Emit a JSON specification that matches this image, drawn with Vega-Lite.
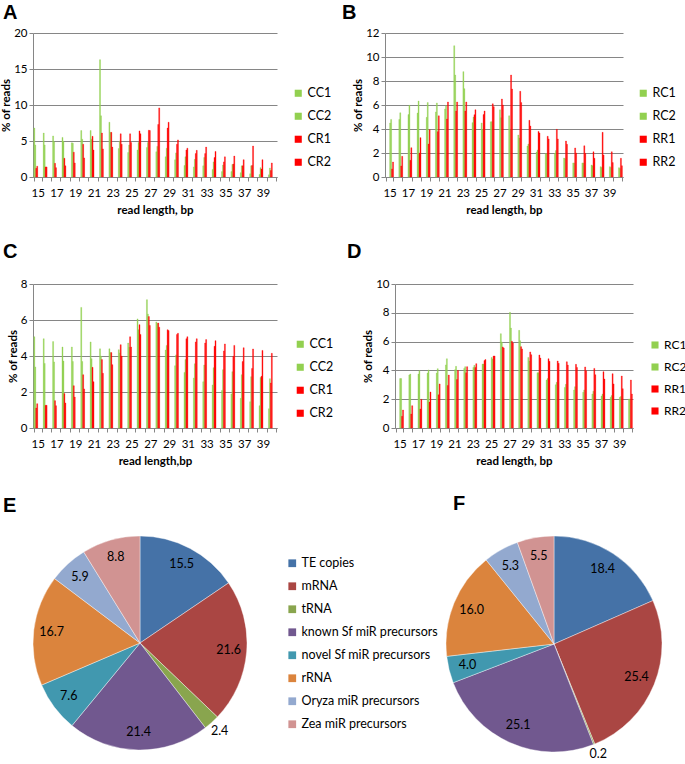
{
  "$schema": "https://vega.github.io/schema/vega-lite/v6.json",
  "padding": {"left": 0, "top": 3, "right": 0, "bottom": 0},
  "background": "white",
  "config": {
    "font": "Lato",
    "view": {"stroke": null},
    "axis": {"labelFont": "Lato", "labelFontSize": 11.5, "labelColor": "#000", "titleFont": "Lato", "titleFontSize": 11.5, "titleFontWeight": "bold", "titleColor": "#000", "domainColor": "#868686", "tickColor": "#868686", "gridColor": "#868686"},
    "axisX": {"grid": false, "tickBand": "extent", "labelAngle": 0, "labelPadding": 6, "tickSize": 4, "titlePadding": 6},
    "axisY": {"grid": true, "tickSize": 4, "labelPadding": 2, "titlePadding": 2},
    "legend": {"labelFont": "Lato", "labelFontSize": 12.5, "labelColor": "#000", "symbolType": "square", "symbolSize": 50, "symbolStrokeWidth": 0, "rowPadding": 10, "labelOffset": 3, "orient": "none", "direction": "vertical", "title": null},
    "title": {"font": "Liberation Sans", "fontSize": 20, "fontWeight": "bold", "color": "#000", "anchor": "start", "frame": "group", "offset": 0}
  },
  "datasets": {
    "A": [
      {"len":15,"CC1":6.8,"CC2":4.45,"CR1":1.2,"CR2":1.5},
      {"len":16,"CC1":6.1,"CC2":4.45,"CR1":1.4,"CR2":1.4},
      {"len":17,"CC1":5.7,"CC2":4.9,"CR1":1.9,"CR2":1.3},
      {"len":18,"CC1":5.5,"CC2":4.95,"CR1":2.6,"CR2":1.55},
      {"len":19,"CC1":4.75,"CC2":4.7,"CR1":3.45,"CR2":1.95},
      {"len":20,"CC1":6.45,"CC2":5.25,"CR1":4.55,"CR2":2.65},
      {"len":21,"CC1":6.45,"CC2":5.25,"CR1":5.65,"CR2":3.75},
      {"len":22,"CC1":16.3,"CC2":8.5,"CR1":6.1,"CR2":3.9},
      {"len":23,"CC1":7.6,"CC2":6.2,"CR1":6.2,"CR2":4.15},
      {"len":24,"CC1":3.95,"CC2":5.0,"CR1":6.0,"CR2":4.55},
      {"len":25,"CC1":3.4,"CC2":4.45,"CR1":6.0,"CR2":4.8},
      {"len":26,"CC1":3.75,"CC2":4.8,"CR1":6.4,"CR2":6.0},
      {"len":27,"CC1":4.1,"CC2":4.8,"CR1":6.5,"CR2":6.45},
      {"len":28,"CC1":3.5,"CC2":4.25,"CR1":7.3,"CR2":9.6},
      {"len":29,"CC1":2.8,"CC2":4.0,"CR1":6.8,"CR2":7.6},
      {"len":30,"CC1":2.4,"CC2":3.35,"CR1":4.55,"CR2":5.15},
      {"len":31,"CC1":1.6,"CC2":2.8,"CR1":3.75,"CR2":4.0},
      {"len":32,"CC1":1.4,"CC2":2.45,"CR1":3.25,"CR2":3.7},
      {"len":33,"CC1":1.55,"CC2":2.7,"CR1":3.25,"CR2":4.15},
      {"len":34,"CC1":1.05,"CC2":2.1,"CR1":2.7,"CR2":3.55},
      {"len":35,"CC1":0.75,"CC2":1.65,"CR1":2.1,"CR2":2.8},
      {"len":36,"CC1":0.75,"CC2":1.75,"CR1":1.8,"CR2":2.9},
      {"len":37,"CC1":0.6,"CC2":1.55,"CR1":1.55,"CR2":2.4},
      {"len":38,"CC1":0.45,"CC2":1.55,"CR1":1.6,"CR2":4.3},
      {"len":39,"CC1":0.35,"CC2":1.3,"CR1":1.1,"CR2":2.4},
      {"len":40,"CC1":0.3,"CC2":1.25,"CR1":0.9,"CR2":1.95}
    ],
    "B": [
      {"len":15,"RC1":4.5,"RC2":4.8,"RR1":0.67,"RR2":1.25},
      {"len":16,"RC1":4.8,"RC2":5.35,"RR1":0.92,"RR2":1.72},
      {"len":17,"RC1":5.2,"RC2":5.97,"RR1":1.39,"RR2":2.44},
      {"len":18,"RC1":5.33,"RC2":6.33,"RR1":2.0,"RR2":3.28},
      {"len":19,"RC1":4.97,"RC2":6.2,"RR1":2.75,"RR2":3.94},
      {"len":20,"RC1":5.42,"RC2":6.17,"RR1":3.78,"RR2":5.1},
      {"len":21,"RC1":5.67,"RC2":5.94,"RR1":4.83,"RR2":6.25},
      {"len":22,"RC1":10.94,"RC2":8.5,"RR1":5.5,"RR2":6.25},
      {"len":23,"RC1":8.78,"RC2":7.36,"RR1":5.5,"RR2":6.25},
      {"len":24,"RC1":4.53,"RC2":5.0,"RR1":5.19,"RR2":5.6},
      {"len":25,"RC1":4.5,"RC2":3.95,"RR1":5.2,"RR2":5.5},
      {"len":26,"RC1":4.6,"RC2":4.6,"RR1":6.1,"RR2":5.86},
      {"len":27,"RC1":5.6,"RC2":4.94,"RR1":6.5,"RR2":6.0},
      {"len":28,"RC1":5.1,"RC2":4.0,"RR1":8.5,"RR2":7.33},
      {"len":29,"RC1":3.5,"RC2":3.25,"RR1":7.14,"RR2":6.2},
      {"len":30,"RC1":2.58,"RC2":2.75,"RR1":4.72,"RR2":4.25},
      {"len":31,"RC1":2.08,"RC2":2.25,"RR1":3.8,"RR2":3.67},
      {"len":32,"RC1":1.94,"RC2":1.94,"RR1":3.39,"RR2":3.17},
      {"len":33,"RC1":1.97,"RC2":2.2,"RR1":3.97,"RR2":3.17},
      {"len":34,"RC1":1.58,"RC2":1.53,"RR1":3.0,"RR2":2.72},
      {"len":35,"RC1":1.17,"RC2":1.17,"RR1":2.42,"RR2":2.0},
      {"len":36,"RC1":1.17,"RC2":1.17,"RR1":2.6,"RR2":1.97},
      {"len":37,"RC1":1.0,"RC2":0.94,"RR1":2.1,"RR2":1.56},
      {"len":38,"RC1":0.86,"RC2":0.8,"RR1":3.72,"RR2":1.83},
      {"len":39,"RC1":0.86,"RC2":0.8,"RR1":2.1,"RR2":1.2},
      {"len":40,"RC1":0.78,"RC2":0.7,"RR1":1.56,"RR2":0.94}
    ],
    "C": [
      {"len":15,"CC1":5.07,"CC2":3.39,"CR1":1.11,"CR2":1.35},
      {"len":16,"CC1":4.96,"CC2":3.59,"CR1":1.26,"CR2":1.26},
      {"len":17,"CC1":4.8,"CC2":3.67,"CR1":1.52,"CR2":1.24},
      {"len":18,"CC1":4.5,"CC2":3.72,"CR1":1.91,"CR2":1.39},
      {"len":19,"CC1":4.5,"CC2":3.7,"CR1":2.35,"CR2":1.72},
      {"len":20,"CC1":6.7,"CC2":3.7,"CR1":2.96,"CR2":2.17},
      {"len":21,"CC1":4.78,"CC2":3.85,"CR1":3.37,"CR2":2.57},
      {"len":22,"CC1":4.4,"CC2":4.0,"CR1":3.8,"CR2":3.04},
      {"len":23,"CC1":4.4,"CC2":4.19,"CR1":4.19,"CR2":3.52},
      {"len":24,"CC1":4.35,"CC2":4.17,"CR1":4.63,"CR2":4.0},
      {"len":25,"CC1":4.72,"CC2":4.48,"CR1":5.07,"CR2":4.5},
      {"len":26,"CC1":6.06,"CC2":5.46,"CR1":5.74,"CR2":5.2},
      {"len":27,"CC1":7.13,"CC2":6.33,"CR1":6.19,"CR2":5.7},
      {"len":28,"CC1":5.89,"CC2":5.81,"CR1":5.83,"CR2":5.6},
      {"len":29,"CC1":4.33,"CC2":4.59,"CR1":5.46,"CR2":5.41},
      {"len":30,"CC1":3.46,"CC2":4.06,"CR1":5.2,"CR2":5.26},
      {"len":31,"CC1":3.09,"CC2":3.8,"CR1":4.96,"CR2":5.07},
      {"len":32,"CC1":2.78,"CC2":3.57,"CR1":4.78,"CR2":4.96},
      {"len":33,"CC1":2.57,"CC2":3.5,"CR1":4.72,"CR2":4.91},
      {"len":34,"CC1":2.39,"CC2":3.35,"CR1":4.54,"CR2":4.85},
      {"len":35,"CC1":2.09,"CC2":3.24,"CR1":4.28,"CR2":4.67},
      {"len":36,"CC1":1.89,"CC2":3.13,"CR1":3.98,"CR2":4.59},
      {"len":37,"CC1":1.65,"CC2":2.96,"CR1":3.69,"CR2":4.46},
      {"len":38,"CC1":1.46,"CC2":2.85,"CR1":3.31,"CR2":4.39},
      {"len":39,"CC1":1.24,"CC2":2.81,"CR1":2.87,"CR2":4.31},
      {"len":40,"CC1":1.07,"CC2":2.74,"CR1":2.5,"CR2":4.15}
    ],
    "D": [
      {"len":15,"RC1":3.43,"RC2":3.43,"RR1":0.81,"RR2":1.25},
      {"len":16,"RC1":3.68,"RC2":3.75,"RR1":0.97,"RR2":1.55},
      {"len":17,"RC1":3.75,"RC2":3.98,"RR1":1.32,"RR2":1.99},
      {"len":18,"RC1":3.82,"RC2":4.03,"RR1":1.8,"RR2":2.5},
      {"len":19,"RC1":3.82,"RC2":4.12,"RR1":2.31,"RR2":3.06},
      {"len":20,"RC1":4.38,"RC2":4.81,"RR1":2.96,"RR2":3.68},
      {"len":21,"RC1":4.05,"RC2":4.28,"RR1":3.36,"RR2":4.0},
      {"len":22,"RC1":4.14,"RC2":4.26,"RR1":3.84,"RR2":4.26},
      {"len":23,"RC1":4.21,"RC2":4.35,"RR1":4.21,"RR2":4.47},
      {"len":24,"RC1":4.44,"RC2":4.44,"RR1":4.68,"RR2":4.75},
      {"len":25,"RC1":4.9,"RC2":4.79,"RR1":5.0,"RR2":5.0},
      {"len":26,"RC1":6.55,"RC2":5.97,"RR1":5.63,"RR2":5.56},
      {"len":27,"RC1":8.03,"RC2":6.94,"RR1":6.02,"RR2":5.9},
      {"len":28,"RC1":6.78,"RC2":6.06,"RR1":5.65,"RR2":5.49},
      {"len":29,"RC1":4.9,"RC2":4.65,"RR1":5.28,"RR2":5.09},
      {"len":30,"RC1":3.84,"RC2":3.84,"RR1":5.07,"RR2":4.86},
      {"len":31,"RC1":3.33,"RC2":3.43,"RR1":4.81,"RR2":4.63},
      {"len":32,"RC1":3.0,"RC2":3.17,"RR1":4.65,"RR2":4.49},
      {"len":33,"RC1":2.82,"RC2":3.03,"RR1":4.6,"RR2":4.37},
      {"len":34,"RC1":2.64,"RC2":2.87,"RR1":4.42,"RR2":4.21},
      {"len":35,"RC1":2.48,"RC2":2.64,"RR1":4.24,"RR2":3.98},
      {"len":36,"RC1":2.36,"RC2":2.55,"RR1":4.14,"RR2":3.7},
      {"len":37,"RC1":2.22,"RC2":2.36,"RR1":3.91,"RR2":3.4},
      {"len":38,"RC1":2.13,"RC2":2.25,"RR1":3.77,"RR2":3.06},
      {"len":39,"RC1":2.13,"RC2":2.18,"RR1":3.61,"RR2":2.73},
      {"len":40,"RC1":2.01,"RC2":2.01,"RR1":3.33,"RR2":2.36}
    ],
    "E": [
      {"k":1,"cat":"TE copies","v":15.5},
      {"k":2,"cat":"mRNA","v":21.6},
      {"k":3,"cat":"tRNA","v":2.4},
      {"k":4,"cat":"known Sf miR precursors","v":21.4},
      {"k":5,"cat":"novel Sf miR precursors","v":7.6},
      {"k":6,"cat":"rRNA","v":16.7},
      {"k":7,"cat":"Oryza miR precursors","v":5.9},
      {"k":8,"cat":"Zea miR precursors","v":8.8}
    ],
    "F": [
      {"k":1,"cat":"TE copies","v":18.4},
      {"k":2,"cat":"mRNA","v":25.4},
      {"k":3,"cat":"tRNA","v":0.2},
      {"k":4,"cat":"known Sf miR precursors","v":25.1},
      {"k":5,"cat":"novel Sf miR precursors","v":4.0},
      {"k":6,"cat":"rRNA","v":16.0},
      {"k":7,"cat":"Oryza miR precursors","v":5.3},
      {"k":8,"cat":"Zea miR precursors","v":5.5}
    ]
  },
  "columns": 1,
  "align": "none",
  "spacing": 26,
  "concat": [
    {
      "hconcat": [
        {
          "width": 244, "height": 144,
          "title": {"text": "A", "dx": -30},
          "data": {"name": "A"},
          "transform": [{"fold": ["CC1", "CC2", "CR1", "CR2"], "as": ["s", "v"]}],
          "mark": {"type": "bar", "strokeWidth": 0.35},
          "encoding": {
            "x": {"field": "len", "type": "ordinal", "scale": {"paddingInner": 0.18, "paddingOuter": 0.09}, "axis": {"title": "read length, bp", "labelExpr": "datum.value % 2 == 1 ? datum.label : ''"}},
            "xOffset": {"field": "s", "type": "nominal", "scale": {"domain": ["CC1", "CC2", "CR1", "CR2"], "paddingInner": 0, "paddingOuter": 0}},
            "y": {"field": "v", "type": "quantitative", "scale": {"domain": [0, 20]}, "axis": {"values": [0, 5, 10, 15, 20], "title": "% of reads"}},
            "color": {"field": "s", "type": "nominal", "scale": {"domain": ["CC1", "CC2", "CR1", "CR2"], "range": ["#92D050", "#92D050", "#FF0000", "#FF0000"]}, "legend": {"legendX": 259, "legendY": 54}},
            "stroke": {"field": "s", "type": "nominal", "scale": {"domain": ["CC1", "CC2", "CR1", "CR2"], "range": ["#92D050", "#92D050", "#FF0000", "#FF0000"]}, "legend": null}
          }
        },
        {
          "width": 238, "height": 144,
          "title": {"text": "B", "dx": -43},
          "data": {"name": "B"},
          "transform": [{"fold": ["RC1", "RC2", "RR1", "RR2"], "as": ["s", "v"]}],
          "mark": {"type": "bar", "strokeWidth": 0.35},
          "encoding": {
            "x": {"field": "len", "type": "ordinal", "scale": {"paddingInner": 0.18, "paddingOuter": 0.09}, "axis": {"title": "read length, bp", "labelExpr": "datum.value % 2 == 1 ? datum.label : ''"}},
            "xOffset": {"field": "s", "type": "nominal", "scale": {"domain": ["RC1", "RC2", "RR1", "RR2"], "paddingInner": 0, "paddingOuter": 0}},
            "y": {"field": "v", "type": "quantitative", "scale": {"domain": [0, 12]}, "axis": {"values": [0, 2, 4, 6, 8, 10, 12], "title": "% of reads"}},
            "color": {"field": "s", "type": "nominal", "scale": {"domain": ["RC1", "RC2", "RR1", "RR2"], "range": ["#92D050", "#92D050", "#FF0000", "#FF0000"]}, "legend": {"legendX": 252, "legendY": 54}},
            "stroke": {"field": "s", "type": "nominal", "scale": {"domain": ["RC1", "RC2", "RR1", "RR2"], "range": ["#92D050", "#92D050", "#FF0000", "#FF0000"]}, "legend": null}
          }
        }
      ],
      "spacing": 108,
      "bounds": "flush",
      "resolve": {"scale": {"color": "independent", "stroke": "independent"}, "legend": {"color": "independent"}}
    },
    {
      "hconcat": [
        {
          "width": 244, "height": 144,
          "title": {"text": "C", "dx": -30, "offset": 16},
          "data": {"name": "C"},
          "transform": [{"fold": ["CC1", "CC2", "CR1", "CR2"], "as": ["s", "v"]}],
          "mark": {"type": "bar", "strokeWidth": 0.35},
          "encoding": {
            "x": {"field": "len", "type": "ordinal", "scale": {"paddingInner": 0.18, "paddingOuter": 0.09}, "axis": {"title": "read length,bp", "labelExpr": "datum.value % 2 == 1 ? datum.label : ''"}},
            "xOffset": {"field": "s", "type": "nominal", "scale": {"domain": ["CC1", "CC2", "CR1", "CR2"], "paddingInner": 0, "paddingOuter": 0}},
            "y": {"field": "v", "type": "quantitative", "scale": {"domain": [0, 8]}, "axis": {"values": [0, 2, 4, 6, 8], "title": "% of reads"}},
            "color": {"field": "s", "type": "nominal", "scale": {"domain": ["CC1", "CC2", "CR1", "CR2"], "range": ["#92D050", "#92D050", "#FF0000", "#FF0000"]}, "legend": {"legendX": 261, "legendY": 54}},
            "stroke": {"field": "s", "type": "nominal", "scale": {"domain": ["CC1", "CC2", "CR1", "CR2"], "range": ["#92D050", "#92D050", "#FF0000", "#FF0000"]}, "legend": null}
          }
        },
        {
          "width": 238, "height": 144,
          "title": {"text": "D", "dx": -48, "offset": 16},
          "data": {"name": "D"},
          "transform": [{"fold": ["RC1", "RC2", "RR1", "RR2"], "as": ["s", "v"]}],
          "mark": {"type": "bar", "strokeWidth": 0.35},
          "encoding": {
            "x": {"field": "len", "type": "ordinal", "scale": {"paddingInner": 0.18, "paddingOuter": 0.09}, "axis": {"title": "read length, bp", "labelExpr": "datum.value % 2 == 1 ? datum.label : ''"}},
            "xOffset": {"field": "s", "type": "nominal", "scale": {"domain": ["RC1", "RC2", "RR1", "RR2"], "paddingInner": 0, "paddingOuter": 0}},
            "y": {"field": "v", "type": "quantitative", "scale": {"domain": [0, 10]}, "axis": {"values": [0, 2, 4, 6, 8, 10], "title": "% of reads"}},
            "color": {"field": "s", "type": "nominal", "scale": {"domain": ["RC1", "RC2", "RR1", "RR2"], "range": ["#92D050", "#92D050", "#FF0000", "#FF0000"]}, "legend": {"legendX": 254, "legendY": 55, "labelFontSize": 12}},
            "stroke": {"field": "s", "type": "nominal", "scale": {"domain": ["RC1", "RC2", "RR1", "RR2"], "range": ["#92D050", "#92D050", "#FF0000", "#FF0000"]}, "legend": null}
          }
        }
      ],
      "spacing": 118,
      "bounds": "flush",
      "resolve": {"scale": {"color": "independent", "stroke": "independent"}, "legend": {"color": "independent"}}
    },
    {
      "hconcat": [
        {
          "width": 214, "height": 214,
          "title": {"text": "E", "dx": -30, "offset": 7},
          "data": {"name": "E"},
          "encoding": {
            "theta": {"field": "v", "type": "quantitative", "stack": true},
            "order": {"field": "k", "type": "quantitative"}
          },
          "layer": [
            {
              "mark": {"type": "arc", "stroke": "white", "strokeWidth": 0.4},
              "encoding": {
                "color": {"field": "cat", "type": "nominal", "scale": {"domain": ["TE copies", "mRNA", "tRNA", "known Sf miR precursors", "novel Sf miR precursors", "rRNA", "Oryza miR precursors", "Zea miR precursors"], "range": ["#4572A7", "#AA4643", "#89A54E", "#71588F", "#4198AF", "#DB843D", "#93A9CF", "#D19392"]}, "legend": {"legendX": 253, "legendY": 21, "rowPadding": 10, "labelFontSize": 12.5, "symbolSize": 60}}
              }
            },
            {
              "mark": {"type": "text", "radius": 89, "fontSize": 12.5, "color": "#000"},
              "encoding": {
                "detail": {"field": "cat"},
                "text": {"condition": {"test": "datum.v < 3", "value": ""}, "field": "v", "type": "quantitative", "format": ".1f"}
              }
            },
            {
              "mark": {"type": "text", "radius": 119, "fontSize": 12.5, "color": "#000"},
              "encoding": {
                "detail": {"field": "cat"},
                "text": {"condition": {"test": "datum.v >= 3", "value": ""}, "field": "v", "type": "quantitative", "format": ".1f"}
              }
            }
          ]
        },
        {
          "width": 216, "height": 216,
          "title": {"text": "F", "dx": 7, "offset": 7},
          "data": {"name": "F"},
          "encoding": {
            "theta": {"field": "v", "type": "quantitative", "stack": true},
            "order": {"field": "k", "type": "quantitative"}
          },
          "layer": [
            {
              "mark": {"type": "arc", "stroke": "white", "strokeWidth": 0.4},
              "encoding": {
                "color": {"field": "cat", "type": "nominal", "scale": {"domain": ["TE copies", "mRNA", "tRNA", "known Sf miR precursors", "novel Sf miR precursors", "rRNA", "Oryza miR precursors", "Zea miR precursors"], "range": ["#4572A7", "#AA4643", "#89A54E", "#71588F", "#4198AF", "#DB843D", "#93A9CF", "#D19392"]}, "legend": null}
              }
            },
            {
              "mark": {"type": "text", "radius": 89, "fontSize": 12.5, "color": "#000"},
              "encoding": {
                "detail": {"field": "cat"},
                "text": {"condition": {"test": "datum.v < 3", "value": ""}, "field": "v", "type": "quantitative", "format": ".1f"}
              }
            },
            {
              "mark": {"type": "text", "radius": 119, "fontSize": 12.5, "color": "#000"},
              "encoding": {
                "detail": {"field": "cat"},
                "text": {"condition": {"test": "datum.v >= 3", "value": ""}, "field": "v", "type": "quantitative", "format": ".1f"}
              }
            }
          ]
        }
      ],
      "spacing": 199,
      "bounds": "flush",
      "resolve": {"scale": {"color": "independent"}, "legend": {"color": "independent"}}
    }
  ]
}
